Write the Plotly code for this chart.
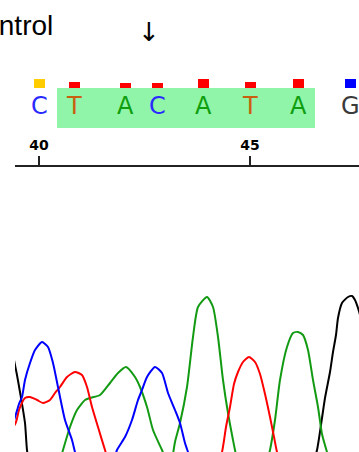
import plotly.graph_objects as go

# ---- data -------------------------------------------------------------
# called bases and their scan positions
bases = ["C", "T", "A", "C", "A", "T", "A", "G"]
base_scan = [39, 74, 125, 157, 203, 250, 298, 350]
base_number = [40, 41, 42, 43, 44, 45, 46, 47]
base_quality = [36, 24, 20, 20, 36, 24, 36, 36]

# numbered ticks
tick_numbers = [40, 45]

# trace channels: scan position / signal
g_scan = [0, 8, 16, 20, 25, 27, 31, 38, 300, 310, 317, 322, 325, 330, 333, 336, 338, 342, 348, 352, 355, 358, 362]
g_sig = [165, 148, 112, 90, 59, 32, 10, 0, 0, 8, 32, 64, 84, 110, 130, 147, 164, 179, 185, 186, 182, 174, 160]

c_scan = [0, 10, 16, 19, 22, 25, 30, 35, 42, 48, 53, 58, 65, 72, 75, 82, 92,
          108, 117, 125, 132, 138, 142, 147, 155, 162, 168, 175, 180, 185, 188, 195, 205, 362]
c_sig = [30, 50, 68, 78, 85, 102, 119, 132, 140, 135, 119, 95, 62, 42, 30, 8, 0,
         5, 32, 45, 62, 82, 92, 105, 115, 109, 89, 72, 59, 39, 30, 8, 0, 0]

t_scan = [0, 10, 16, 19, 25, 30, 37, 43, 50, 55, 60, 67, 75, 82, 87, 92, 98, 105, 113, 122,
          212, 222, 226, 230, 234, 238, 243, 249, 255, 260, 265, 270, 274, 277, 284, 292, 362]
t_sig = [40, 50, 60, 72, 84, 85, 82, 79, 82, 89, 95, 105, 110, 107, 95, 75, 55, 32, 8, 0,
         0, 30, 55, 75, 98, 110, 120, 125, 120, 108, 88, 65, 45, 30, 8, 0, 0]

a_scan = [0, 45, 55, 63, 70, 77, 85, 90, 100, 110, 118, 126, 135, 140, 147, 153, 162, 170,
          175, 180, 187, 193, 198, 207, 213, 218, 223, 228, 233, 235, 241,
          255, 264, 270, 275, 280, 287, 293, 298, 303, 308, 313, 318, 322, 327, 334, 345, 362]
a_sig = [0, 0, 5, 32, 55, 72, 82, 84, 87, 99, 109, 115, 105, 95, 75, 52, 32, 14,
         40, 59, 95, 145, 175, 185, 175, 145, 102, 69, 42, 32, 8,
         0, 10, 32, 62, 102, 135, 149, 150, 147, 132, 102, 75, 48, 30, 8, 0, 0]

channels = [
    ("G", g_scan, g_sig, "#000000"),
    ("A", a_scan, a_sig, "#139a13"),
    ("T", t_scan, t_sig, "#ff0000"),
    ("C", c_scan, c_sig, "#0000ff"),
]

# ---- style ------------------------------------------------------------
W, H = 359, 452
AXIS_PY = 167          # pixel row of the scan axis
TRACE_LEFT_PX = 15
BASE_COLORS = {"A": "#0e9e0e", "C": "#2a2aff", "G": "#3a3a3a", "T": "#c8600f"}
QUAL_COLORS = ["#ffcc00", "#ff0000", "#ff0000", "#ff0000", "#ff0000", "#ff0000", "#ff0000", "#0000ff"]
QUAL_TOP_PY, QUAL_BOTTOM_PY = 79, 88
LETTER_PY = 106
HIGHLIGHT = (1, 6)     # first/last highlighted base index


def py(p):
    """pixel row -> paper y"""
    return 1 - p / H


fig = go.Figure()

for name, xs, ys, col in channels:
    fig.add_trace(go.Scatter(
        x=xs, y=ys, mode="lines", name=name,
        line=dict(color=col, width=2, shape="spline", smoothing=0.6),
        xaxis="x", yaxis="y", hoverinfo="skip",
    ))

# quality bars above the called bases
fig.add_trace(go.Bar(
    x=base_scan, y=base_quality, width=11,
    marker=dict(color=QUAL_COLORS, line=dict(width=0)),
    xaxis="x", yaxis="y2", hoverinfo="skip",
))

# base letters
for b, s in zip(bases, base_scan):
    fig.add_annotation(
        x=s, y=py(LETTER_PY), xref="x", yref="paper",
        text=b, showarrow=False, xanchor="center", yanchor="middle",
        font=dict(family="DejaVu Sans", size=24, color=BASE_COLORS[b]),
    )

# highlighted stretch of bases
fig.add_shape(
    type="rect", xref="x", yref="paper", layer="below",
    x0=base_scan[HIGHLIGHT[0]] - 17, x1=base_scan[HIGHLIGHT[1]] + 17,
    y0=py(128), y1=py(88),
    fillcolor="#90f5a8", line=dict(width=0),
)

# header text
fig.add_annotation(
    x=55 / W, y=py(26), xref="paper", yref="paper",
    text="Control", showarrow=False, xanchor="right", yanchor="middle",
    font=dict(family="Liberation Sans", size=28, color="#000000"),
)
fig.add_annotation(
    x=149 / W, y=py(32), xref="paper", yref="paper",
    text="↓", showarrow=False, xanchor="center", yanchor="middle",
    font=dict(family="DejaVu Sans", size=26, color="#000000"),
)

tick_scan = [base_scan[base_number.index(n)] for n in tick_numbers]

fig.update_layout(
    width=W, height=H,
    margin=dict(l=0, r=0, t=0, b=0),
    paper_bgcolor="white", plot_bgcolor="rgba(0,0,0,0)",
    showlegend=False, bargap=0,
    xaxis=dict(
        domain=[TRACE_LEFT_PX / W, 1], range=[TRACE_LEFT_PX, W],
        side="top", anchor="y",
        showline=True, linecolor="#222222", linewidth=2,
        ticks="outside", ticklen=9, tickwidth=2, tickcolor="#222222",
        tickvals=tick_scan, ticktext=[str(n) for n in tick_numbers],
        tickfont=dict(family="DejaVu Sans", size=14, color="#000000", weight="bold"),
        showgrid=False, zeroline=False, fixedrange=True,
    ),
    yaxis=dict(
        domain=[0, py(AXIS_PY)], range=[30, 30 + (H - AXIS_PY)],
        visible=False, fixedrange=True,
    ),
    yaxis2=dict(
        domain=[py(QUAL_BOTTOM_PY), py(QUAL_TOP_PY)], range=[0, max(base_quality)],
        anchor="x", visible=False, fixedrange=True,
    ),
)

fig.write_html("out.html", config={"displayModeBar": False})
